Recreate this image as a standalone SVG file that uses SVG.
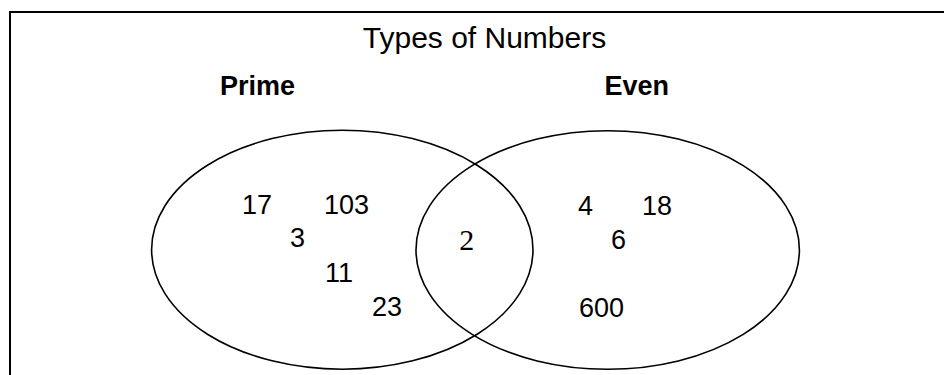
<svg xmlns="http://www.w3.org/2000/svg" width="944" height="375" viewBox="0 0 944 375">
<style>
.frame{fill:none;stroke:#000;stroke-width:2}
.set{fill:none;stroke:#000;stroke-width:1.6}
.title{font-family:"Liberation Sans",Arial,sans-serif;font-size:30px;fill:#000}
.lbl{font-family:"Liberation Sans",Arial,sans-serif;font-size:27px;font-weight:bold;fill:#000}
.num{font-family:"Liberation Sans",Arial,sans-serif;font-size:27px;fill:#000}
.num2{font-family:"Liberation Serif","Times New Roman",serif;font-size:30px;fill:#000}
</style>
<rect width="944" height="375" fill="#fff"/>
<path class="frame" d="M10 375 V12 H944"/>
<text class="title" x="484.5" y="48" text-anchor="middle">Types of Numbers</text>
<g id="prime">
<ellipse class="set" cx="342.3" cy="249.7" rx="190.7" ry="119.5"/>
<text class="lbl" x="220" y="94.5">Prime</text>
<text class="num" x="242" y="213.5">17</text>
<text class="num" x="324" y="213.5">103</text>
<text class="num" x="290" y="247">3</text>
<text class="num" x="325" y="282">11</text>
<text class="num" x="372" y="316">23</text>
</g>
<g id="even">
<ellipse class="set" cx="607.7" cy="250" rx="191.7" ry="119.3"/>
<text class="lbl" x="604.5" y="95">Even</text>
<text class="num" x="578" y="215">4</text>
<text class="num" x="642" y="215">18</text>
<text class="num" x="611" y="249.3">6</text>
<text class="num" x="579" y="316.5">600</text>
</g>
<g id="both">
<text class="num2" x="466.7" y="250" text-anchor="middle">2</text>
</g>
<g id="connectors"></g>
</svg>
